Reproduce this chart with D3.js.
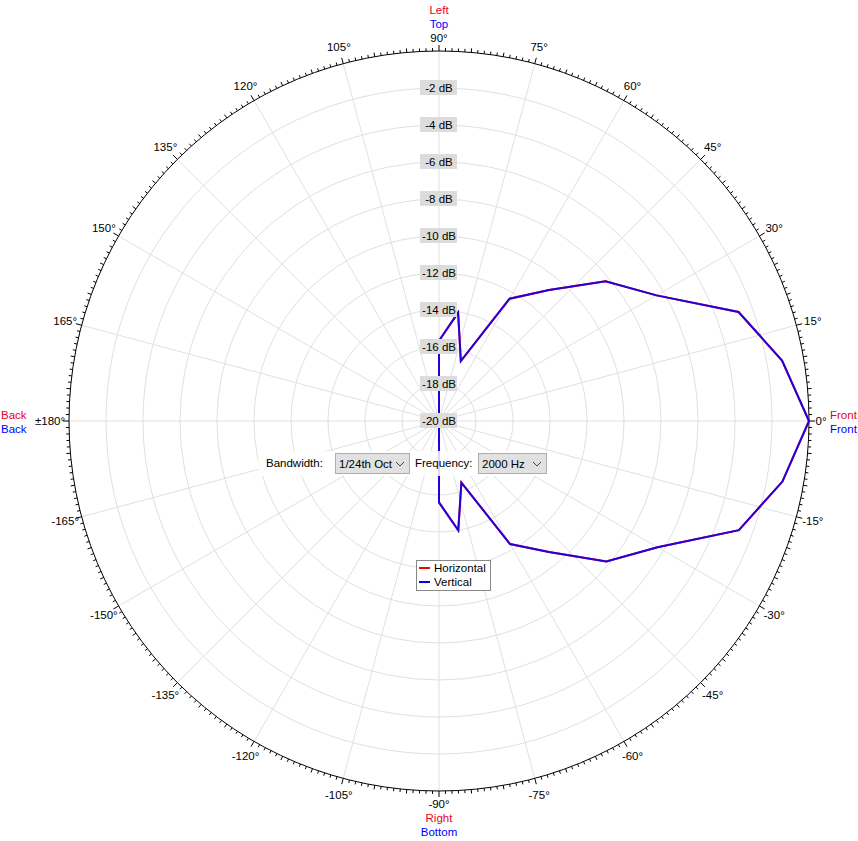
<!DOCTYPE html>
<html>
<head>
<meta charset="utf-8">
<script src="https://cdn.jsdelivr.net/npm/d3@7"></script>
<style>
  html, body { margin: 0; padding: 0; background: #fff; }
  svg { display: block; font-family: "Liberation Sans", Arial, sans-serif; }
</style>
</head>
<body>
<svg id="chart" width="858" height="841"></svg>
<script>
// ---- data ----
const angles = [-180,-170,-160,-150,-140,-130,-120,-110,-100,-90,-80,-70,-60,-50,-40,-30,-20,-10,0,10,20,30,40,50,60,70,80,90,100,110,120,130,140,150,160,170,180];
const horizontal = [-20,-20,-20,-20,-20,-20,-20,-20,-20,-15.6,-14.0,-16.46,-12.32,-10.75,-8.19,-6.36,-2.75,-1.15,0,-1.17,-2.77,-6.42,-8.25,-10.75,-12.37,-16.55,-14.05,-15.66,-20,-20,-20,-20,-20,-20,-20,-20,-20];
const vertical   = [-20,-20,-20,-20,-20,-20,-20,-20,-20,-15.6,-14.0,-16.46,-12.32,-10.75,-8.19,-6.36,-2.75,-1.15,0,-1.17,-2.77,-6.42,-8.25,-10.75,-12.37,-16.55,-14.05,-15.66,-20,-20,-20,-20,-20,-20,-20,-20,-20];
const dbTicks = [-2,-4,-6,-8,-10,-12,-14,-16,-18,-20];
const angleTicks = [0,15,30,45,60,75,90,105,120,135,150,165,180,-165,-150,-135,-120,-105,-90,-75,-60,-45,-30,-15];
const angleLabels = ["0°","15°","30°","45°","60°","75°","90°","105°","120°","135°","150°","165°","±180°","-165°","-150°","-135°","-120°","-105°","-90°","-75°","-60°","-45°","-30°","-15°"];
const seriesNames = ["Horizontal","Vertical"];
const bandwidthText = "1/24th Oct";
const frequencyText = "2000 Hz";

// ---- layout ----
const FS = 11.5;
const cx = 439, cy = 421, R = 370;
const svg = d3.select("#chart");
const g = svg.append("g").attr("transform", `translate(${cx},${cy})`);
const r = d3.scaleLinear().domain([-20, 0]).range([0, R]).clamp(true);
const toRad = d => (90 - d) * Math.PI / 180; // d3 radial angle (clockwise from top)
const px = (deg, rad) => rad * Math.sin(toRad(deg));
const py = (deg, rad) => -rad * Math.cos(toRad(deg));

// grid circles
g.selectAll("circle.grid").data(dbTicks.filter(d => d > -20)).enter()
  .append("circle").attr("r", d => r(d)).attr("fill", "none")
  .attr("stroke", "#e0e0e0").attr("stroke-width", 1);

// spokes
g.selectAll("line.spoke").data(angleTicks).enter().append("line")
  .attr("x1", 0).attr("y1", 0)
  .attr("x2", d => px(d, R)).attr("y2", d => py(d, R))
  .attr("stroke", "#e0e0e0").attr("stroke-width", 1);

// outer circle
g.append("circle").attr("r", R).attr("fill", "none").attr("stroke", "#000").attr("stroke-width", 1);

// ticks on outer circle (every degree)
const tickDegs = d3.range(0, 360, 1);
const tlen = d => (d % 15 === 0 ? 6 : d % 5 === 0 ? 4 : 3);
g.selectAll("line.tick").data(tickDegs).enter().append("line")
  .attr("x1", d => px(d, R)).attr("y1", d => py(d, R))
  .attr("x2", d => px(d, R + tlen(d)))
  .attr("y2", d => py(d, R + tlen(d)))
  .attr("stroke", "#000").attr("stroke-width", 1);

// angle labels
const labR = d => (d === 0 ? 382 : d === 90 || d === -90 ? 383 : d === 180 ? 389 : 387);
g.selectAll("text.alab").data(angleTicks).enter().append("text")
  .attr("x", d => px(d, labR(d)))
  .attr("y", d => py(d, labR(d)))
  .attr("text-anchor", "middle").attr("dominant-baseline", "central")
  .attr("font-size", FS).attr("fill", "#000")
  .text((d, i) => angleLabels[i]);

// data lines
const line = d3.lineRadial()
  .angle((d, i) => toRad(angles[i]))
  .radius(d => r(d));
g.append("path").attr("d", line(horizontal)).attr("fill", "none")
  .attr("stroke", "#ff0000").attr("stroke-width", 2).attr("stroke-linejoin", "miter");
g.append("path").attr("d", line(vertical)).attr("fill", "none")
  .attr("stroke", "#0000ff").attr("stroke-width", 2).attr("stroke-opacity", 0.86).attr("stroke-linejoin", "miter");

// dB labels
const dbg = g.selectAll("g.db").data(dbTicks).enter().append("g")
  .attr("transform", d => `translate(0,${-r(d)})`);
dbg.append("rect").attr("x", -19).attr("y", -8).attr("width", 37).attr("height", 15).attr("fill", "#dcdcdc");
dbg.append("text").attr("x", 0).attr("y", 0).attr("text-anchor", "middle")
  .attr("dominant-baseline", "central").attr("font-size", FS).attr("fill", "#000")
  .text(d => d + " dB");

// direction labels
const dir = (x, y, t, c, anchor) => svg.append("text").attr("x", x).attr("y", y)
  .attr("text-anchor", anchor || "middle").attr("dominant-baseline", "central")
  .attr("font-size", FS).attr("fill", c).text(t);
dir(439, 10, "Left", "#e8002a");
dir(439, 24, "Top", "#0000ff");
dir(439, 818, "Right", "#e8002a");
dir(439, 832, "Bottom", "#0000ff");
dir(830, 415, "Front", "#e8002a", "start");
dir(830, 429, "Front", "#0000ff", "start");
dir(1, 415, "Back", "#e8002a", "start");
dir(1, 429, "Back", "#0000ff", "start");

// controls panel
svg.append("rect").attr("x", 258).attr("y", 451).attr("width", 294).attr("height", 25)
  .attr("fill", "#fff").attr("fill-opacity", 0.85);
svg.append("text").attr("x", 266).attr("y", 463).attr("dominant-baseline", "central")
  .attr("font-size", FS).text("Bandwidth:");
svg.append("text").attr("x", 415).attr("y", 463).attr("dominant-baseline", "central")
  .attr("font-size", FS).text("Frequency:");
function dropdown(x, w, t) {
  const d = svg.append("g").attr("transform", `translate(${x},453)`);
  d.append("rect").attr("x", 0.5).attr("y", 0.5).attr("width", w).attr("height", 20)
    .attr("fill", "#e1e1e1").attr("stroke", "#adadad");
  d.append("text").attr("x", 4).attr("y", 11).attr("dominant-baseline", "central")
    .attr("font-size", FS).text(t);
  d.append("path").attr("d", `M${w - 13},9 L${w - 9},13 L${w - 5},9`)
    .attr("fill", "none").attr("stroke", "#444").attr("stroke-width", 1);
}
dropdown(335, 74, bandwidthText);
dropdown(478, 68, frequencyText);

// legend
const lg = svg.append("g").attr("transform", "translate(416,560)");
lg.append("rect").attr("x", 0.5).attr("y", 0.5).attr("width", 74).attr("height", 30)
  .attr("fill", "#fff").attr("stroke", "#888");
const lcols = ["#ff0000", "#0000ff"];
seriesNames.forEach((n, i) => {
  lg.append("line").attr("x1", 3).attr("x2", 14).attr("y1", 8 + i * 14).attr("y2", 8 + i * 14)
    .attr("stroke", lcols[i]).attr("stroke-width", 2);
  lg.append("text").attr("x", 18).attr("y", 8 + i * 14).attr("dominant-baseline", "central")
    .attr("font-size", FS).text(n);
});
</script>
</body>
</html>
